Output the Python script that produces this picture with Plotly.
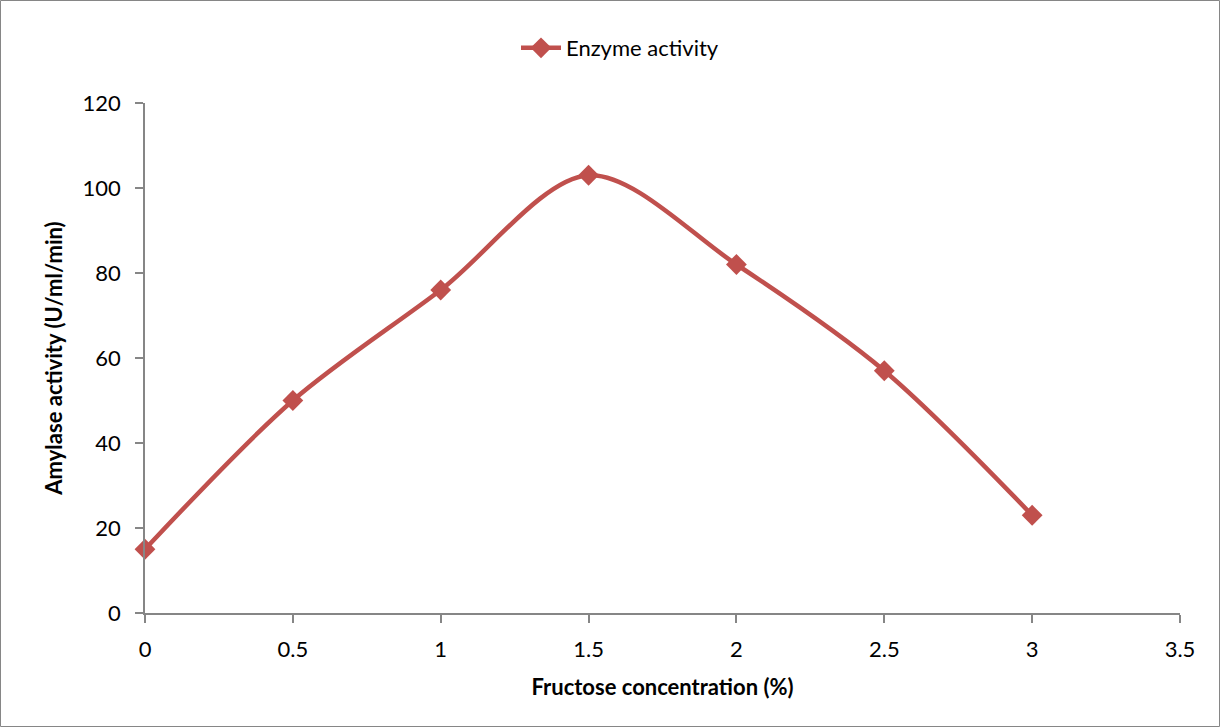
import plotly.graph_objects as go

fructose = [0, 0.5, 1, 1.5, 2, 2.5, 3]
activity = [15, 50, 76, 103, 82, 57, 23]
series_name = "Enzyme activity"
x_title = "Fructose concentration (%)"
y_title = "Amylase activity (U/ml/min)"

W, H = 1221, 728
ml, mr, mt, mb = 145, 41, 103, 115
pw, ph = W - ml - mr, H - mt - mb
FONT = "Lato, Open Sans, sans-serif"

fig = go.Figure()
fig.add_trace(go.Scatter(
    x=fructose, y=activity, name=series_name, mode="lines+markers",
    line=dict(color="#C0504D", width=4.5, shape="spline", smoothing=0.9),
    marker=dict(symbol="diamond", size=16, color="#C0504D"),
    cliponaxis=False,
))

axis_common = dict(
    showgrid=False, zeroline=False, showline=True, linecolor="#868686", linewidth=1.5,
    ticks="outside", tickcolor="#868686", ticklen=8, tickwidth=1.5,
    tickfont=dict(family=FONT, size=22, color="#000"),
)
fig.update_xaxes(range=[0, 3.5], tickvals=[0, 0.5, 1, 1.5, 2, 2.5, 3, 3.5],
                 ticktext=["0", "0.5", "1", "1.5", "2", "2.5", "3", "3.5"],
                 ticklabelstandoff=8,
                 title=dict(text="<b>" + x_title + "</b>", standoff=18,
                            font=dict(family=FONT, size=22, color="#000")),
                 **axis_common)
fig.update_yaxes(range=[0, 120], tickvals=[0, 20, 40, 60, 80, 100, 120],
                 ticklabelstandoff=10,
                 title=dict(text="<b>" + y_title + "</b>", standoff=14,
                            font=dict(family=FONT, size=22, color="#000")),
                 **axis_common)

fig.add_shape(type="rect", xref="paper", yref="paper",
              x0=-(ml - 0.5) / pw, x1=1 + (mr - 1.5) / pw,
              y0=-(mb - 1.5) / ph, y1=1 + (mt - 0.5) / ph,
              line=dict(color="#868686", width=1))

fig.update_layout(
    width=W, height=H, margin=dict(l=ml, r=mr, t=mt, b=mb),
    plot_bgcolor="white", paper_bgcolor="white",
    showlegend=True,
    legend=dict(orientation="h", x=(620 - ml) / pw, xanchor="center", y=1 + (mt - 48) / ph, yanchor="middle",
                font=dict(family=FONT, size=22, color="#000"),
                itemwidth=40),
)

fig.write_html("out.html")
